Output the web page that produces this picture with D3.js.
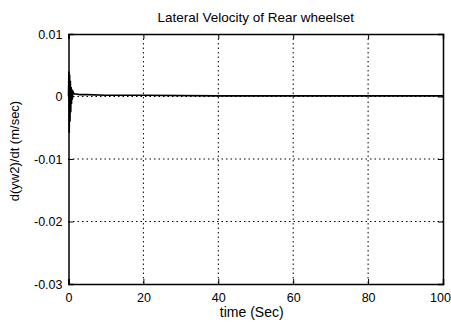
<!DOCTYPE html>
<html><head><meta charset="utf-8">
<script src="https://cdn.jsdelivr.net/npm/d3@7"></script>
<style>body{margin:0;background:#fff}svg{display:block}text{font-family:"Liberation Sans",Arial,sans-serif;fill:#000}</style>
</head><body>
<script>
const title = "Lateral Velocity of Rear wheelset";
const xLabel = "time (Sec)";
const yLabel = "d(yw2)/dt (m/sec)";
const xTicks = [0, 20, 40, 60, 80, 100];
const yTicks = [0.01, 0, -0.01, -0.02, -0.03];
const yTickLabels = ["0.01", "0", "-0.01", "-0.02", "-0.03"];
const times = [0, 0.1, 0.2, 0.3, 0.4, 0.5, 0.6, 0.7, 0.8, 0.9, 1.0, 1.2, 1.5, 2, 3, 5, 10, 20, 40, 60, 80, 100];
const values = [0, 0.004, -0.0058, 0.0035, -0.004, 0.0025, -0.0025, 0.0015, -0.0012, 0.001, -0.0005, 0.0008, 0.0004, 0.0004, 0.0003, 0.0003, 0.0002, 0.0002, 0.0001, 0.0001, 0.0001, 0.0001];

const W = 451, H = 322;
const m = {l: 68.5, r: 443, t: 34, b: 284};
const svg = d3.select("body").append("svg").attr("width", W).attr("height", H);
const x = d3.scaleLinear().domain([0, 100]).range([m.l, m.r]);
const y = d3.scaleLinear().domain([-0.03, 0.01]).range([m.b, m.t]);

// grid
const g = svg.append("g");
xTicks.slice(1, -1).forEach(t => g.append("line").attr("x1", x(t)).attr("x2", x(t)).attr("y1", m.t).attr("y2", m.b)
  .attr("stroke", "#000").attr("stroke-width", 1).attr("stroke-dasharray", "1.5,3"));
yTicks.slice(1, -1).forEach(t => g.append("line").attr("x1", m.l).attr("x2", m.r).attr("y1", y(t)).attr("y2", y(t))
  .attr("stroke", "#000").attr("stroke-width", 1).attr("stroke-dasharray", "1.5,3"));

// axes
const xa = svg.append("g").attr("transform", `translate(0,${m.b})`)
  .call(d3.axisBottom(x).tickValues(xTicks).tickSize(-5).tickPadding(9).tickFormat(d3.format("d")));
const xt = svg.append("g").attr("transform", `translate(0,${m.t})`)
  .call(d3.axisTop(x).tickValues(xTicks).tickSize(-5).tickFormat(""));
const ya = svg.append("g").attr("transform", `translate(${m.l},0)`)
  .call(d3.axisLeft(y).tickValues(yTicks).tickSize(-5).tickPadding(6).tickFormat((d, i) => yTickLabels[i]));
const yr = svg.append("g").attr("transform", `translate(${m.r},0)`)
  .call(d3.axisRight(y).tickValues(yTicks).tickSize(-5).tickFormat(""));
[xa, xt, ya, yr].forEach(a => {
  a.selectAll("path").attr("stroke", "#000").attr("stroke-width", 1.5);
  a.selectAll("line").attr("stroke", "#000");
  a.selectAll("text").attr("font-size", 12.5).attr("font-family", "Liberation Sans, Arial, sans-serif").attr("fill", "#000");
});
xa.selectAll(".tick text").filter(d => d === 100).attr("dx", -3);

// line
svg.append("path").datum(times.map((t, i) => [t, values[i]]))
  .attr("fill", "none").attr("stroke", "#000").attr("stroke-width", 1.6)
  .attr("d", d3.line().x(d => x(d[0])).y(d => y(d[1])));

svg.append("text").attr("x", (m.l + m.r) / 2).attr("y", 22).attr("text-anchor", "middle").attr("font-size", 13.5).text(title);
svg.append("text").attr("x", (m.l + m.r) / 2 - 4).attr("y", 317).attr("text-anchor", "middle").attr("font-size", 14).text(xLabel);
svg.append("text").attr("transform", `translate(19,${(m.t + m.b) / 2 - 8}) rotate(-90)`).attr("text-anchor", "middle").attr("font-size", 13).text(yLabel);
</script>
</body></html>
